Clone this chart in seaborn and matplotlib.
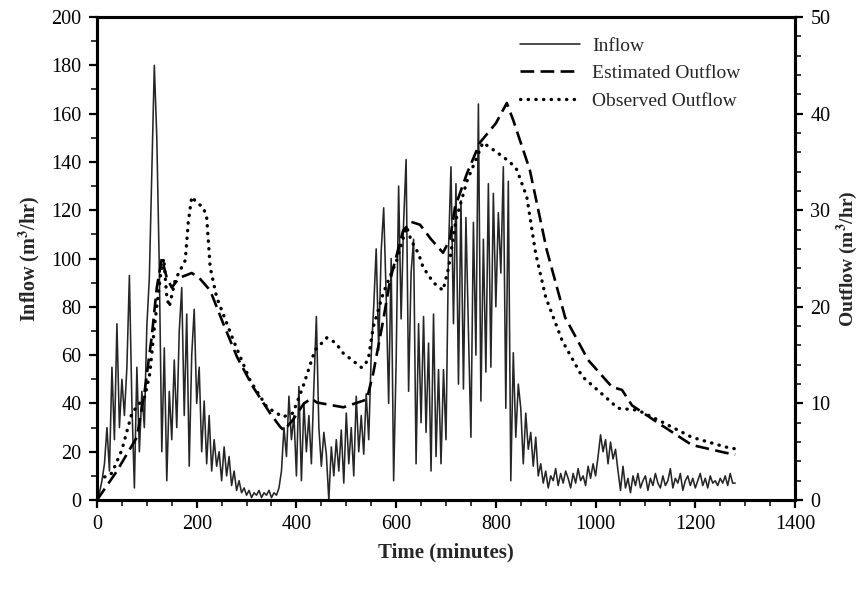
import numpy as np
import pandas as pd
import matplotlib
matplotlib.use("Agg")
import matplotlib.pyplot as plt
from matplotlib.ticker import MultipleLocator
import seaborn as sns

# ---------------- data ----------------
inflow_step_min = 5  # sampling interval of the inflow record (minutes)
inflow = [
    0, 3, 8, 15, 30, 12, 55, 25, 73, 30,
    50, 35, 55, 93, 40, 5, 55, 20, 45, 30,
    72, 92, 137, 180, 150, 96, 20, 63, 8, 45,
    25, 58, 30, 70, 88, 35, 77, 14, 60, 79,
    40, 55, 20, 41, 15, 35, 12, 25, 14, 20,
    8, 22, 10, 18, 6, 12, 4, 8, 3, 5,
    2, 4, 1, 3, 2, 4, 1, 3, 2, 4,
    1, 3, 2, 5, 12, 30, 18, 43, 25, 35,
    10, 47, 8, 40, 20, 35, 15, 47, 76, 30,
    14, 28, 19, 0, 22, 10, 25, 12, 29, 7,
    36, 15, 30, 10, 43, 20, 35, 19, 44, 25,
    60, 80, 104, 62, 103, 121, 85, 40, 100, 8,
    57, 130, 75, 115, 141, 45, 94, 108, 15, 73,
    32, 76, 28, 65, 12, 77, 18, 54, 15, 54,
    25, 103, 138, 73, 131, 48, 124, 46, 117, 70,
    26, 115, 60, 164, 41, 108, 53, 131, 55, 127,
    80, 119, 94, 138, 38, 132, 8, 61, 26, 48,
    38, 15, 36, 21, 28, 14, 26, 10, 15, 7,
    12, 5, 10, 8, 13, 6, 11, 7, 12, 9,
    5, 11, 7, 13, 8, 10, 6, 14, 9, 15,
    10, 18, 27, 20, 25, 15, 24, 17, 21, 12,
    4, 14, 5, 9, 3, 10, 6, 11, 5, 8,
    10, 4, 9, 6, 11, 7, 5, 10, 6, 8,
    13, 5, 9, 7, 11, 4, 8, 10, 6, 9,
    5, 8, 11, 6, 9, 5, 10, 7, 8, 6,
    9, 7, 10, 6, 11, 7, 7,
]
inflow_time = np.arange(len(inflow)) * inflow_step_min

est_time = [0, 40, 80, 95, 110, 120, 130, 140, 150, 165, 190, 205, 227, 253,
            281, 313, 347, 367, 375, 393, 415, 430, 441, 494, 541, 554, 574,
            588, 614, 630, 648, 670, 694, 708, 718, 742, 768, 800, 822, 835,
            868, 902, 939, 985, 1033, 1053, 1073, 1125, 1193, 1260, 1280]
est_outflow = [0, 3, 6.5, 11, 17, 22, 25, 23, 22, 23, 23.5, 23, 21.7, 18.3,
               14.8, 11.7, 9, 7.6, 7.2, 8.3, 10, 10.5, 10.1, 9.6, 10.4, 13.1, 18.6,
               22.8, 27.9, 28.8, 28.5, 27, 25.6, 27, 30.3, 33.8, 37, 39, 41.1, 39.3,
               34.2, 25.9, 18.9, 14.5, 11.7, 11.4, 9.8, 8, 5.7, 4.9, 4.7]

obs_time = [0, 20, 30, 50, 70, 96, 106, 116, 128, 134, 140, 145, 157, 177,
            183, 190, 200, 213, 220, 227, 240, 273, 307, 341, 373, 393, 413,
            437, 461, 478, 494, 531, 544, 554, 574, 601, 621, 630, 645, 654,
            675, 694, 705, 720, 742, 774, 802, 828, 842, 862, 880, 900, 933,
            973, 1019, 1045, 1085, 1125, 1193, 1260, 1280]
obs_outflow = [2.4, 2.4, 2.8, 5.2, 9, 10.7, 13.1, 18.3, 23.5, 25, 21, 20, 22.8, 24.8,
               28.7, 31.4, 30.8, 30.3, 29.3, 24.1, 21, 16.6, 12.4, 9.6, 8.6, 9, 11.7,
               15.5, 16.8, 16.3, 15.2, 13.7, 14.5, 17.9, 21.4, 24.8, 28.3, 26.9, 25.5, 24.1,
               22.5, 21.7, 24, 29, 33, 37, 36, 35, 34.2, 31.4, 25.5, 21, 16.5,
               12.8, 10.7, 9.5, 9.3, 8.3, 6.5, 5.5, 5.3]

legend_labels = ["Inflow", "Estimated Outflow", "Observed Outflow"]

df_in = pd.DataFrame({"t": inflow_time, "q": inflow})
df_est = pd.DataFrame({"t": est_time, "q": est_outflow})
df_obs = pd.DataFrame({"t": obs_time, "q": obs_outflow})

# ---------------- style ----------------
sns.set_style("ticks")
plt.rcParams["font.family"] = ["Liberation Serif", "DejaVu Serif"]
plt.rcParams["mathtext.fontset"] = "stix"

fig = plt.figure(figsize=(8.59, 5.90), dpi=100)
ax = fig.add_axes([0.1129, 0.1525, 0.8126, 0.8186])
ax2 = ax.twinx()

sns.lineplot(data=df_in, x="t", y="q", ax=ax, color="#262626", linewidth=1.15,
             estimator=None, sort=False, label=legend_labels[0], legend=False)
sns.lineplot(data=df_est, x="t", y="q", ax=ax2, color="black", linewidth=1.9,
             estimator=None, sort=False, label=legend_labels[1], legend=False)
sns.lineplot(data=df_obs, x="t", y="q", ax=ax2, color="black", linewidth=2.4,
             estimator=None, sort=False, label=legend_labels[2], legend=False)

l_in = ax.get_lines()[0]
l_est, l_obs = ax2.get_lines()[0], ax2.get_lines()[1]
l_est.set_linestyle((0, (5.2, 2.4)))
l_obs.set_linestyle((0, (0.1, 2.2)))
l_obs.set_dash_capstyle("round")

ax.set_xlim(0, 1400)
ax.set_ylim(0, 200)
ax2.set_ylim(0, 50)

ax.xaxis.set_major_locator(MultipleLocator(200))
ax.xaxis.set_minor_locator(MultipleLocator(50))
ax.yaxis.set_major_locator(MultipleLocator(20))
ax.yaxis.set_minor_locator(MultipleLocator(10))
ax2.yaxis.set_major_locator(MultipleLocator(10))
ax2.yaxis.set_minor_locator(MultipleLocator(2))

for a in (ax, ax2):
    for s in a.spines.values():
        s.set_linewidth(2.2)
        s.set_color("black")
    a.tick_params(which="major", direction="out", length=6, width=1.6,
                  labelsize=14.5, colors="black", pad=5)
    a.tick_params(which="minor", direction="out", length=4, width=1.3)
ax.tick_params(axis="y", which="both", right=False)
ax.tick_params(axis="x", which="both", top=False)
ax2.tick_params(axis="y", which="both", left=False, right=True)

ax.set_xlabel("Time (minutes)", fontsize=15, fontweight="bold", labelpad=6)
ax.set_ylabel("Inflow (m$^{\\mathbf{3}}$/hr)", fontsize=14.5, fontweight="bold", labelpad=7)
ax2.set_ylabel("Outflow (m$^{\\mathbf{3}}$/hr)", fontsize=14, fontweight="bold",
               labelpad=3, rotation=90)

leg = ax2.legend([l_in, l_est, l_obs], legend_labels, loc="upper left",
                 bbox_to_anchor=(0.606, 0.958), frameon=False, fontsize=14,
                 handlelength=3.1, handletextpad=0.6, labelspacing=0.5,
                 borderpad=0, borderaxespad=0)

fig.savefig("out.png", dpi=100)
